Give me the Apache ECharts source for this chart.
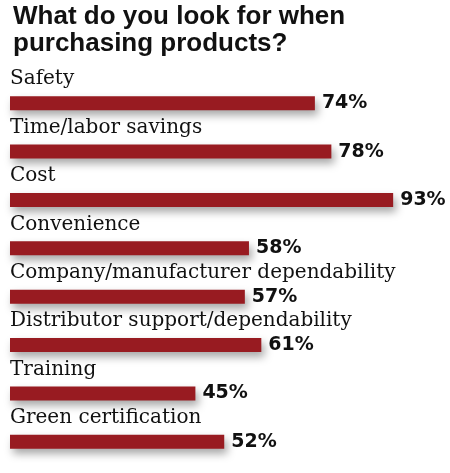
<!DOCTYPE html>
<html>
<head>
<meta charset="utf-8">
<script src="https://cdn.jsdelivr.net/npm/echarts@6/dist/echarts.min.js"></script>
<style>
  html, body { margin: 0; padding: 0; background: #fff; }
  #chart { width: 450px; height: 473px; }
</style>
</head>
<body>
<div id="chart"></div>
<script>
// survey answers, top to bottom
var categories = [
  'Safety',
  'Time/labor savings',
  'Cost',
  'Convenience',
  'Company/manufacturer dependability',
  'Distributor support/dependability',
  'Training',
  'Green certification'
];
var percents = [74, 78, 93, 58, 57, 61, 45, 52];

var myChart = echarts.init(document.getElementById('chart'));

myChart.setOption({
  animation: false,
  title: {
    text: 'What do you look for when\npurchasing products?',
    left: 8,
    top: -2,
    textStyle: {
      fontFamily: 'Liberation Sans',
      fontWeight: 'bold',
      fontSize: 26,
      lineHeight: 27,
      color: '#111'
    }
  },
  grid: {
    left: 10,
    right: 28,
    top: 79,
    bottom: 7,
    containLabel: false
  },
  xAxis: {
    type: 'value',
    min: 0,
    max: 100,
    show: false
  },
  yAxis: {
    type: 'category',
    data: categories,
    inverse: true,
    axisLine: { show: false },
    axisTick: { show: false },
    splitLine: { show: false },
    axisLabel: {
      inside: true,
      margin: 0,
      verticalAlign: 'bottom',
      padding: [0, 0, 14, 0],
      fontFamily: 'DejaVu Serif',
      fontSize: 20,
      color: '#111'
    }
  },
  series: [{
    type: 'bar',
    data: percents,
    barWidth: 14,
    itemStyle: {
      color: '#981b21',
      shadowColor: 'rgba(0,0,0,0.35)',
      shadowBlur: 8,
      shadowOffsetX: 3,
      shadowOffsetY: 5
    },
    label: {
      show: true,
      position: 'right',
      distance: 7,
      formatter: '{c}%',
      fontFamily: 'DejaVu Sans',
      fontWeight: 'bold',
      fontSize: 19,
      color: '#111'
    }
  }]
});
</script>
</body>
</html>
